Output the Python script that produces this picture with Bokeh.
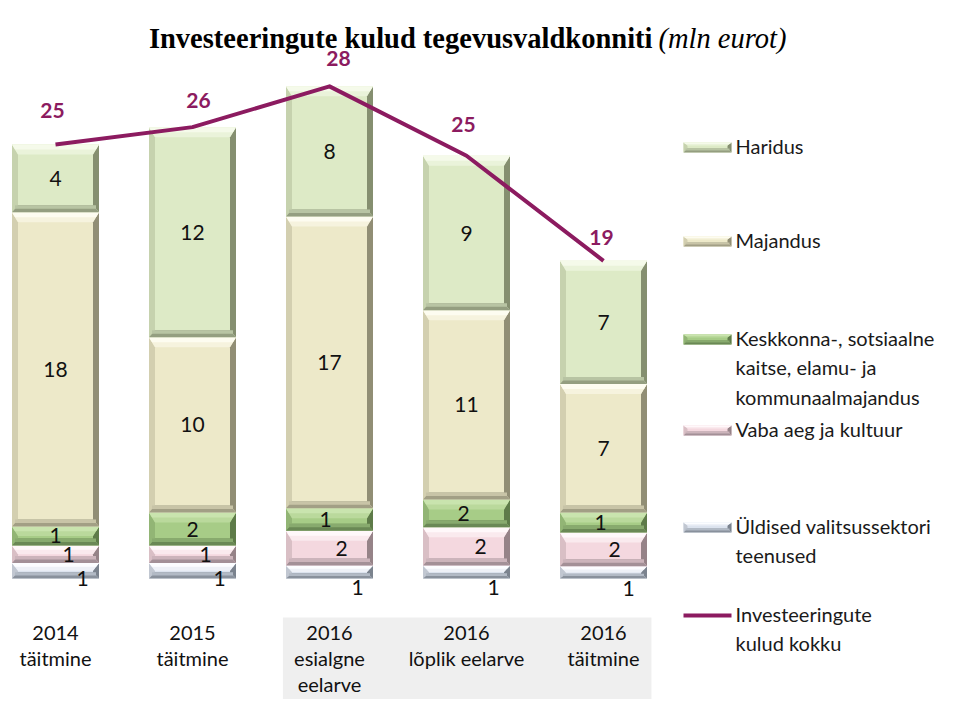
from bokeh.plotting import figure
from bokeh.models import Range1d
from bokeh.core.properties import value
from bokeh.embed import file_html
from bokeh.resources import INLINE

# ---------------- data ----------------
categories = ["2014\ntäitmine", "2015\ntäitmine", "2016\nesialgne\neelarve",
              "2016\nlõplik eelarve", "2016\ntäitmine"]

uldised = [0.9, 0.9, 0.75, 0.75, 0.7]
vaba_aeg = [1.0, 1.0, 2.0, 2.2, 1.95]
keskkond = [1.1, 1.9, 1.3, 1.6, 1.15]
majandus = [18.1, 10.1, 16.8, 10.9, 7.4]
haridus = [3.9, 12.1, 7.5, 8.9, 7.1]

uldised_lbl = ["1", "1", "1", "1", "1"]
vaba_aeg_lbl = ["1", "1", "2", "2", "2"]
keskkond_lbl = ["1", "2", "1", "2", "1"]
majandus_lbl = ["18", "10", "17", "11", "7"]
haridus_lbl = ["4", "12", "8", "9", "7"]
total_lbl = ["25", "26", "28", "25", "19"]

name_uldised = "Üldised valitsussektori\nteenused"
name_vaba = "Vaba aeg ja kultuur"
name_kesk = "Keskkonna-, sotsiaalne\nkaitse, elamu- ja\nkommunaalmajandus"
name_maj = "Majandus"
name_har = "Haridus"
name_total = "Investeeringute\nkulud kokku"

title_main = "Investeeringute kulud tegevusvaldkonniti"
title_unit = "(mln eurot)"

# ---------------- layout / style ----------------
W, H = 940, 699
X0PX, CATPX, BASEPX, UNITPX = 55.0, 137.0, 578.0, 17.36
BAR_HALF = 43.5 / CATPX
FONT = value("Lato")
LINE_COLOR = "#8C1B60"


def xd(px):
    return (px - X0PX) / CATPX


def yd(py):
    return (BASEPX - py) / UNITPX


# series styles: (body, top, left, right, bottom)
styles = {
    "har": ("#DDEAC6", "#F5FAEA", "#C6D2AE", "#858F70", "#949E80"),
    "maj": ("#EDE9C9", "#FDFCF0", "#D3CFB0", "#918E75", "#A29F85"),
    "kes": ("#A7CC87", "#C9E4AE", "#92B575", "#5E7B49", "#6A8855"),
    "vab": ("#F4D8DF", "#FFF8FA", "#D9BFC5", "#968388", "#A39097"),
    "uld": ("#DCE3EE", "#FCFDFF", "#C1C7D1", "#7B838E", "#89919C"),
}

# label offsets in pixels (dx right, dy down)
lbl_dx = {"uld": [27, 27, 28, 27, 25], "vab": [13, 13, 12, 14, 11],
          "kes": [0, 0, -4, -3, -3], "maj": [0] * 5, "har": [0] * 5}
lbl_dy = {"uld": [8, 8, 16, 16, 16], "vab": [0] * 5, "kes": [0] * 5,
          "maj": [0] * 5, "har": [0] * 5}
tot_dx = [-3, 6, 9, -3, -2]
tot_up = [34, 27, 28, 31, 23]

p = figure(width=W, height=H, x_range=Range1d(xd(0), xd(W)),
           y_range=Range1d(yd(H), yd(0)), output_backend="svg",
           toolbar_location=None, x_axis_location=None, y_axis_location=None,
           min_border=0)
p.outline_line_color = None
p.grid.visible = False
p.background_fill_color = "white"
p.border_fill_color = "white"

poly_xs, poly_ys, poly_col = [], [], []


def mix(c1, c2, t):
    a = [int(c1[k:k + 2], 16) for k in (1, 3, 5)]
    b = [int(c2[k:k + 2], 16) for k in (1, 3, 5)]
    return "#" + "".join("%02X" % round(a[j] + (b[j] - a[j]) * t) for j in range(3))


def bevel(x0, x1, y0, y1, st, top_px=10, bot_px=7, side_px=6):
    body, ctop, cleft, cright, cbot = st
    h_px = (y1 - y0) * UNITPX
    tp = min(top_px, h_px * 0.5)
    bp = min(bot_px, h_px * 0.4)
    sx = side_px / CATPX
    ty = tp / UNITPX
    by = bp / UNITPX
    xi0, xi1 = x0 + sx, x1 - sx
    yi0, yi1 = y0 + by, y1 - ty
    ym = y1 - ty * 0.5
    faces = [
        ([x0, x1, x1, x0], [y0, y0, y1, y1], body),
        ([x0, xi0, xi0, x0], [y0, yi0, yi1, y1], cleft),
        ([x1, xi1, xi1, x1], [y0, yi0, yi1, y1], cright),
        ([x0, x1, xi1, xi0], [y0, y0, yi0, yi0], cbot),
        ([x0 + sx * 0.5, x1 - sx * 0.5, x1 - sx * 0.5, x0 + sx * 0.5],
         [y0 + by * 0.5, y0 + by * 0.5, y0 + by, y0 + by], mix(body, cbot, 0.5)),
        ([x0, x1, xi1, xi0], [y1, y1, yi1, yi1], mix(ctop, body, 0.45)),
        ([x0, x1, x1 - sx * 0.5, x0 + sx * 0.5], [y1, y1, ym, ym], ctop),
    ]
    for fx, fy, c in faces:
        poly_xs.append(fx)
        poly_ys.append(fy)
        poly_col.append(c)


# grey band behind the 2016 category labels
p.quad(left=[2 - 0.34], right=[4 + 0.35], bottom=[yd(H) - 1], top=[yd(617)],
       fill_color="#EFEFEF", line_color=None)

stack = [("uld", uldised, uldised_lbl), ("vab", vaba_aeg, vaba_aeg_lbl),
         ("kes", keskkond, keskkond_lbl), ("maj", majandus, majandus_lbl),
         ("har", haridus, haridus_lbl)]

n = len(categories)
bottoms = [0.0] * n
lx, ly, lt = [], [], []
for key, vals, lbls in stack:
    for i in range(n):
        b = bottoms[i]
        t = b + vals[i]
        bevel(i - BAR_HALF, i + BAR_HALF, b, t, styles[key])
        lx.append(i + lbl_dx[key][i] / CATPX)
        ly.append((b + t) / 2 - lbl_dy[key][i] / UNITPX)
        lt.append(lbls[i])
        bottoms[i] = t

totals = bottoms[:]

# legend markers
legend_rows = [("har", name_har, 145), ("maj", name_maj, 239), ("kes", name_kesk, 337),
               ("vab", name_vaba, 428), ("uld", name_uldised, 525), (None, name_total, 613)]
for key, name, row in legend_rows:
    if key is not None:
        bevel(xd(683), xd(731), yd(row + 7), yd(row - 3), styles[key],
              top_px=3, bot_px=4, side_px=4)

p.patches(xs=poly_xs, ys=poly_ys, fill_color=poly_col, line_color=None)

# segment labels
p.text(x=lx, y=ly, text=lt, text_font=FONT, text_font_size="21px",
       text_color="#111111", text_align="center", text_baseline="middle")

# total line
idx = list(range(n))
p.line(x=idx, y=totals, line_color=LINE_COLOR, line_width=4, line_join="round")
p.text(x=[i + tot_dx[i] / CATPX for i in idx],
       y=[totals[i] + tot_up[i] / UNITPX for i in idx],
       text=total_lbl, text_font=FONT, text_font_size="21px", text_font_style="bold",
       text_color=LINE_COLOR, text_align="center", text_baseline="middle")

# category labels
cx, cy, ct = [], [], []
for i, c in enumerate(categories):
    for k, line in enumerate(c.split("\n")):
        cx.append(i)
        cy.append(yd(632 + 25.5 * k))
        ct.append(line)
p.text(x=cx, y=cy, text=ct, text_font=FONT, text_font_size="20px",
       text_color="#111111", text_align="center", text_baseline="middle")

# legend
p.line(x=[xd(683), xd(731)], y=[yd(615), yd(615)], line_color=LINE_COLOR, line_width=4)
gx, gy, gt = [], [], []
for key, name, row in legend_rows:
    for k, line in enumerate(name.split("\n")):
        gx.append(xd(735))
        gy.append(yd(row + 29.5 * k))
        gt.append(line)
p.text(x=gx, y=gy, text=gt, text_font=FONT, text_font_size="20px",
       text_color="#1A1A1A", text_align="left", text_baseline="middle")

# title
p.text(x=[xd(652)], y=[yd(38)], text=[title_main], text_font=value("Liberation Serif"),
       text_font_size="28.5px", text_font_style="bold", text_color="#000000",
       text_align="right", text_baseline="alphabetic")
p.text(x=[xd(658)], y=[yd(38)], text=[title_unit], text_font=value("Liberation Serif"),
       text_font_size="28.5px", text_font_style="italic", text_color="#000000",
       text_align="left", text_baseline="alphabetic")

open("out.html", "w").write(file_html(p, INLINE))
